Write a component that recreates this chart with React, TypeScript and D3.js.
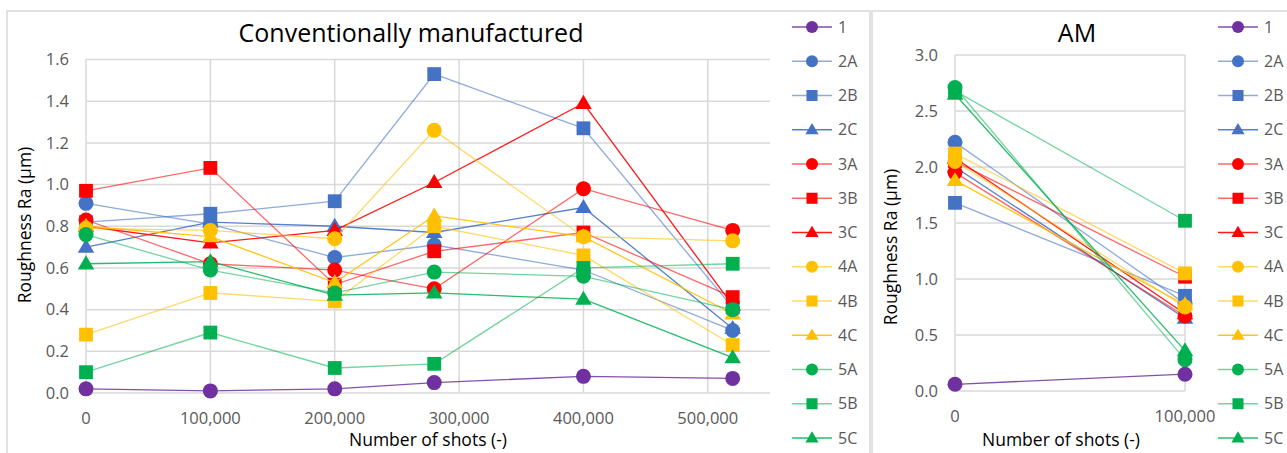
import React from 'react';
import * as d3 from 'd3';

// ---------- DATA ----------
const seriesNames = ['1', '2A', '2B', '2C', '3A', '3B', '3C', '4A', '4B', '4C', '5A', '5B', '5C'];

const convShots = [0, 100000, 200000, 280000, 400000, 520000];
const conv1 = [0.02, 0.01, 0.02, 0.05, 0.08, 0.07];
const conv2A = [0.91, 0.81, 0.65, 0.71, 0.59, 0.30];
const conv2B = [0.82, 0.86, 0.92, 1.53, 1.27, 0.41];
const conv2C = [0.70, 0.82, 0.80, 0.77, 0.89, 0.31];
const conv3A = [0.83, 0.62, 0.59, 0.50, 0.98, 0.78];
const conv3B = [0.97, 1.08, 0.52, 0.68, 0.77, 0.46];
const conv3C = [0.80, 0.72, 0.78, 1.01, 1.39, 0.42];
const conv4A = [0.79, 0.78, 0.74, 1.26, 0.75, 0.73];
const conv4B = [0.28, 0.48, 0.44, 0.80, 0.66, 0.23];
const conv4C = [0.80, 0.75, 0.53, 0.85, 0.75, 0.38];
const conv5A = [0.76, 0.59, 0.48, 0.58, 0.56, 0.40];
const conv5B = [0.10, 0.29, 0.12, 0.14, 0.60, 0.62];
const conv5C = [0.62, 0.63, 0.47, 0.48, 0.45, 0.17];

const amShots = [0, 100000];
const am1 = [0.06, 0.15];
const am2A = [2.22, 0.78];
const am2B = [1.68, 0.85];
const am2C = [2.00, 0.65];
const am3A = [1.95, 0.67];
const am3B = [2.05, 1.02];
const am3C = [2.08, 0.69];
const am4A = [2.05, 0.75];
const am4B = [2.12, 1.05];
const am4C = [1.88, 0.77];
const am5A = [2.71, 0.28];
const am5B = [2.68, 1.52];
const am5C = [2.65, 0.36];

const convTicksY = [0, 0.2, 0.4, 0.6, 0.8, 1.0, 1.2, 1.4, 1.6];
const convTicksX = [0, 100000, 200000, 300000, 400000, 500000];
const amTicksY = [0, 0.5, 1.0, 1.5, 2.0, 2.5, 3.0];
const amTicksX = [0, 100000];

const convSeries = [conv1, conv2A, conv2B, conv2C, conv3A, conv3B, conv3C, conv4A, conv4B, conv4C, conv5A, conv5B, conv5C];
const amSeries = [am1, am2A, am2B, am2C, am3A, am3B, am3C, am4A, am4B, am4C, am5A, am5B, am5C];

// ---------- STYLE ----------
const PURPLE = '#7030A0';
const BLUE = '#4472C4';
const RED = '#FF0000';
const YELLOW = '#FFC000';
const GREEN = '#00B050';
const seriesColors = [PURPLE, BLUE, BLUE, BLUE, RED, RED, RED, YELLOW, YELLOW, YELLOW, GREEN, GREEN, GREEN];
const seriesShapes = ['circle', 'circle', 'square', 'triangle', 'circle', 'square', 'triangle', 'circle', 'square', 'triangle', 'circle', 'square', 'triangle'];
const lineOpacity = [0.85, 0.6, 0.6, 0.9, 0.6, 0.6, 0.9, 0.6, 0.6, 0.9, 0.55, 0.55, 0.85];

const FONT = '"Open Sans", "Liberation Sans", sans-serif';
const GRID = '#D9D9D9';
const TEXT = '#595959';

function Marker({ shape, cx, cy, size, color }: { shape: string; cx: number; cy: number; size: number; color: string }) {
  if (shape === 'circle') return <circle cx={cx} cy={cy} r={size / 2} fill={color} />;
  if (shape === 'square') return <rect x={cx - size * 0.46} y={cy - size * 0.46} width={size * 0.92} height={size * 0.92} fill={color} />;
  const s = size * 1.1;
  const h = s * 0.85;
  const p = `M${cx},${cy - h * 0.6} L${cx + s / 2},${cy + h * 0.4} L${cx - s / 2},${cy + h * 0.4} Z`;
  return <path d={p} fill={color} />;
}

type PanelProps = {
  frameX: number; frameW: number;
  left: number; right: number; top: number; bottom: number;
  xDomain: [number, number]; yDomain: [number, number];
  xTicks: number[]; yTicks: number[]; yFmt: (v: number) => string;
  shots: number[]; series: number[][];
  title: string; titleX: number;
  xTitleX: number; yTitleX: number; yTitleY: number;
  legendX: number;
};

function Panel(p: PanelProps) {
  const x = d3.scaleLinear().domain(p.xDomain).range([p.left, p.right]);
  const y = d3.scaleLinear().domain(p.yDomain).range([p.bottom, p.top]);
  const line = d3.line<number>().x((_, i) => x(p.shots[i])).y((d) => y(d));
  const xFmt = d3.format(',');
  return (
    <g>
      <rect x={p.frameX} y={11} width={p.frameW} height={460} fill="#fff" stroke={GRID} strokeWidth={1.5} />
      <text x={p.titleX} y={42} textAnchor="middle" fontSize={25} fill="#000" fontFamily={FONT}>{p.title}</text>
      {p.yTicks.map((t) => (
        <line key={'hy' + t} x1={p.left} x2={p.right} y1={y(t)} y2={y(t)} stroke={GRID} strokeWidth={1.5} />
      ))}
      {p.xTicks.map((t) => (
        <line key={'vx' + t} x1={x(t)} x2={x(t)} y1={p.top} y2={p.bottom} stroke={GRID} strokeWidth={1.5} />
      ))}
      {p.yTicks.map((t) => (
        <text key={'ly' + t} x={p.left - 17} y={y(t)} dy="0.35em" textAnchor="end" fontSize={16.5} fill={TEXT} fontFamily={FONT}>{p.yFmt(t)}</text>
      ))}
      {p.xTicks.map((t) => (
        <text key={'lx' + t} x={x(t)} y={p.bottom + 25} dy="0.35em" textAnchor="middle" fontSize={16.5} fill={TEXT} fontFamily={FONT}>{xFmt(t)}</text>
      ))}
      <text x={p.xTitleX} y={440} dy="0.35em" textAnchor="middle" fontSize={17.5} fill="#000" fontFamily={FONT}>Number of shots (-)</text>
      <text transform={`translate(${p.yTitleX},${p.yTitleY}) rotate(-90)`} dy="0.35em" textAnchor="middle" fontSize={17.5} fill="#000" fontFamily={FONT}>Roughness Ra (μm)</text>
      {p.series.map((vals, si) => (
        <g key={'s' + si}>
          <path d={line(vals) || ''} fill="none" stroke={seriesColors[si]} strokeOpacity={lineOpacity[si]} strokeWidth={1.3} />
          {vals.map((v, i) => (
            <Marker key={i} shape={seriesShapes[si]} cx={x(p.shots[i])} cy={y(v)} size={15} color={seriesColors[si]} />
          ))}
        </g>
      ))}
      {seriesNames.map((n, si) => {
        const ly = 27 + si * 34.25;
        return (
          <g key={'lg' + si}>
            <line x1={p.legendX - 20} x2={p.legendX + 20} y1={ly} y2={ly} stroke={seriesColors[si]} strokeOpacity={lineOpacity[si]} strokeWidth={1.5} />
            <Marker shape={seriesShapes[si]} cx={p.legendX} cy={ly} size={12} color={seriesColors[si]} />
            <text x={p.legendX + 26} y={ly} dy="0.35em" fontSize={16} fill={TEXT} fontFamily={FONT}>{n}</text>
          </g>
        );
      })}
    </g>
  );
}

export default function App() {
  return (
    <svg width={1287} height={453} style={{ position: 'absolute', left: 0, top: 0, background: '#fff' }}>
      <rect x={0} y={0} width={1287} height={453} fill="#fff" />
      <Panel
        frameX={7} frameW={863}
        left={86} right={770} top={59.5} bottom={393}
        xDomain={[0, 550000]} yDomain={[0, 1.6]}
        xTicks={convTicksX} yTicks={convTicksY} yFmt={d3.format('.1f')}
        shots={convShots} series={convSeries}
        title="Conventionally manufactured" titleX={411}
        xTitleX={428} yTitleX={25} yTitleY={225}
        legendX={812}
      />
      <Panel
        frameX={872} frameW={430}
        left={955} right={1185} top={55} bottom={391}
        xDomain={[0, 100000]} yDomain={[0, 3.0]}
        xTicks={amTicksX} yTicks={amTicksY} yFmt={d3.format('.1f')}
        shots={amShots} series={amSeries}
        title="AM" titleX={1077}
        xTitleX={1061} yTitleX={891} yTitleY={247}
        legendX={1238}
      />
    </svg>
  );
}
